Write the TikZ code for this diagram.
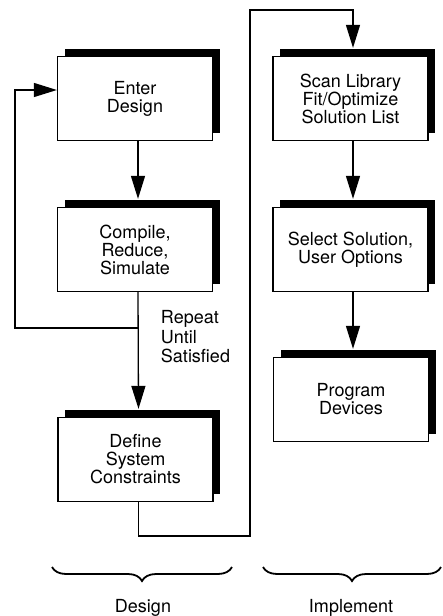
\documentclass[tikz,border=0pt]{standalone}
\usepackage{fontspec}
\setmainfont{TeX Gyre Heros}
\usetikzlibrary{arrows.meta,shadows,decorations.pathreplacing}
\begin{document}
\begin{tikzpicture}[x=1pt,y=-1pt,line width=1.3pt,
		txt/.style={font=\fontsize{18}{18}\selectfont},
		stage/.style={txt,draw,fill=white,minimum width=155pt,minimum height=84pt,inner sep=0pt,align=center,
			drop shadow={shadow xshift=7pt,shadow yshift=8pt,fill=black,opacity=1}},
		flow/.style={-{Triangle[length=23pt,width=14pt]}}]
			\useasboundingbox (0,0) rectangle (442,616);
			\node [stage] (enter) at (135,98.5) {Enter\\Design};
			\node [stage] (compile) at (135,249.5) {Compile,\\Reduce,\\Simulate};
			\node [stage] (define) at (135.5,459.5) {Define\\System\\Constraints};
			\node [stage] (scan) at (350.5,98.5) {Scan Library\\Fit/Optimize\\Solution List};
			\node [stage] (select) at (350.5,249.5) {Select Solution,\\User Options};
			\node [stage] (program) at (351,399.5) {Program\\Devices};
			\coordinate (fork) at (138,328);
			\draw [flow] ([xshift=3pt]enter.south) -- ([xshift=3pt,yshift=8pt]compile.north);
			\draw [flow] ([xshift=3pt]compile.south) -- ([xshift=3pt,yshift=8pt]define.north);
			\draw [flow] (fork) -| (15,90) -- ([yshift=8.5pt]enter.west);
			\draw [flow] ([xshift=3pt]define.south) |- (250,536) -- (250,10) -| ([xshift=2.5pt,yshift=8pt]scan.north);
			\draw [flow] ([xshift=2.5pt]scan.south) -- ([xshift=2.5pt,yshift=8pt]select.north);
			\draw [flow] ([xshift=2.5pt]select.south) -- ([xshift=2pt,yshift=8pt]program.north);
			\node [txt,anchor=west,align=left,font=\fontsize{18}{19.5}\selectfont] (repeat) at (157,337) {Repeat\\Until\\Satisfied};
			\draw [decorate,decoration={brace,amplitude=14pt,mirror},line width=1.8pt] (52,567) -- (232,567);
			\draw [decorate,decoration={brace,amplitude=14pt,mirror},line width=1.8pt] (263,567) -- (441,567);
			\node [txt,anchor=base] (design) at (143,612) {Design};
			\node [txt,anchor=base] (implement) at (351,612) {Implement};
		\end{tikzpicture}
\end{document}
